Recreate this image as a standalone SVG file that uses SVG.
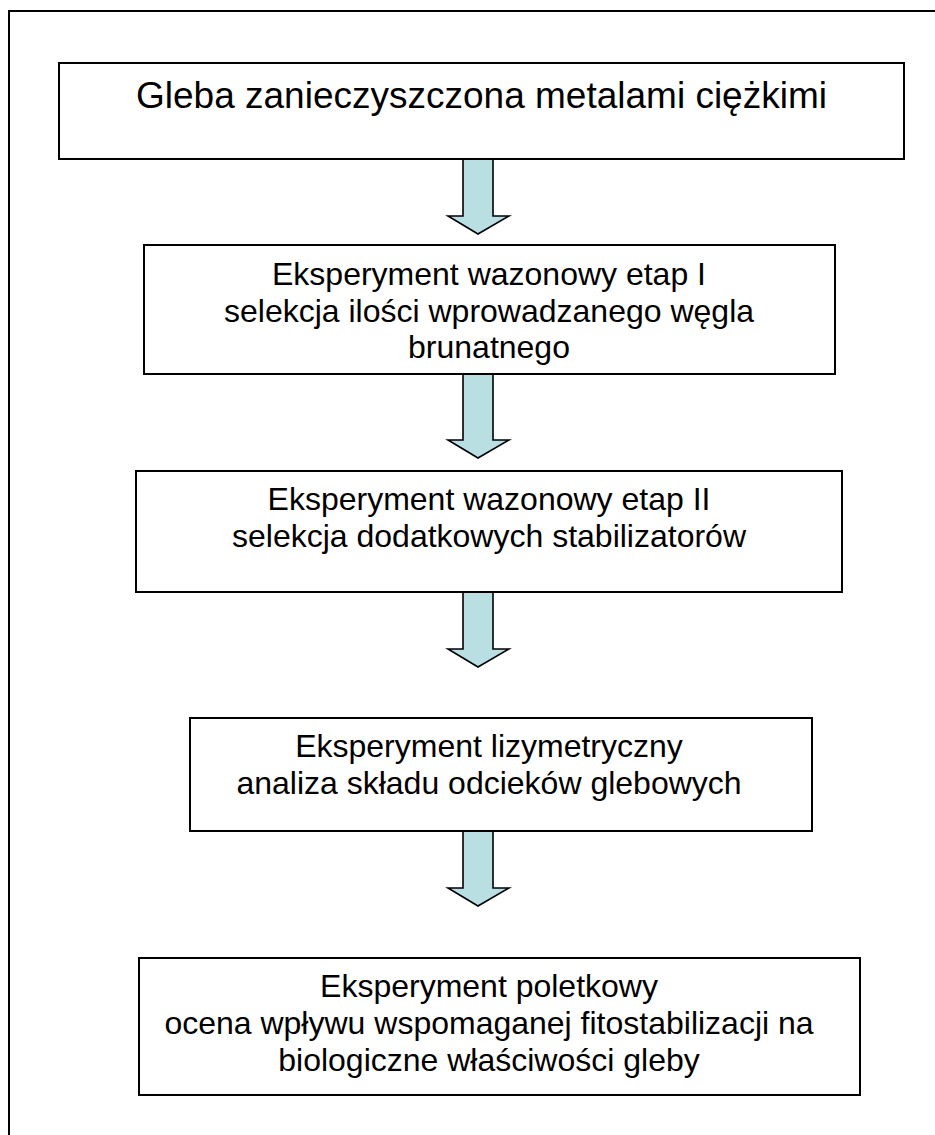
<svg xmlns="http://www.w3.org/2000/svg" width="935" height="1135" viewBox="0 0 935 1135">
<style>
.box{fill:#ffffff;stroke:#000000;stroke-width:2}
.frame{fill:none;stroke:#000000;stroke-width:2}
.arr{fill:#b9dfe2;stroke:#000000;stroke-width:1.6;stroke-linejoin:miter}
.t{font-family:"Liberation Sans",Arial,sans-serif;fill:#000000;text-anchor:middle}
.t1{font-size:37px}
.t2{font-size:32px}
</style>
<rect width="935" height="1135" fill="#ffffff"/>
<path class="frame" d="M9,1140 V11 H940"/>
<g id="connectors">
<polygon class="arr" points="463,159 493,159 493,216 509,216 478,234 448,216 463,216"/>
<polygon class="arr" points="463,374 493,374 493,440 509,440 478,458 448,440 463,440"/>
<polygon class="arr" points="463,592 493,592 493,649 509,649 478,667 448,649 463,649"/>
<polygon class="arr" points="463,831 493,831 493,888 509,888 478,906 448,888 463,888"/>
</g>
<g id="n1">
<rect class="box" x="59" y="63" width="845" height="96"/>
<text class="t t1" x="481.5" y="108">Gleba zanieczyszczona metalami ciężkimi</text>
</g>
<g id="n2">
<rect class="box" x="144" y="245" width="691" height="129"/>
<text class="t t2" x="489" y="285">Eksperyment wazonowy etap I</text>
<text class="t t2" x="489" y="322">selekcja ilości wprowadzanego węgla</text>
<text class="t t2" x="489" y="358">brunatnego</text>
</g>
<g id="n3">
<rect class="box" x="136" y="471" width="706" height="121"/>
<text class="t t2" x="489" y="510">Eksperyment wazonowy etap II</text>
<text class="t t2" x="489" y="547">selekcja dodatkowych stabilizatorów</text>
</g>
<g id="n4">
<rect class="box" x="190" y="718" width="622" height="113"/>
<text class="t t2" x="489" y="757">Eksperyment lizymetryczny</text>
<text class="t t2" x="489" y="794">analiza składu odcieków glebowych</text>
</g>
<g id="n5">
<rect class="box" x="139" y="958" width="721" height="137"/>
<text class="t t2" x="489" y="997">Eksperyment poletkowy</text>
<text class="t t2" x="489" y="1034">ocena wpływu wspomaganej fitostabilizacji na</text>
<text class="t t2" x="489" y="1071">biologiczne właściwości gleby</text>
</g>
</svg>
